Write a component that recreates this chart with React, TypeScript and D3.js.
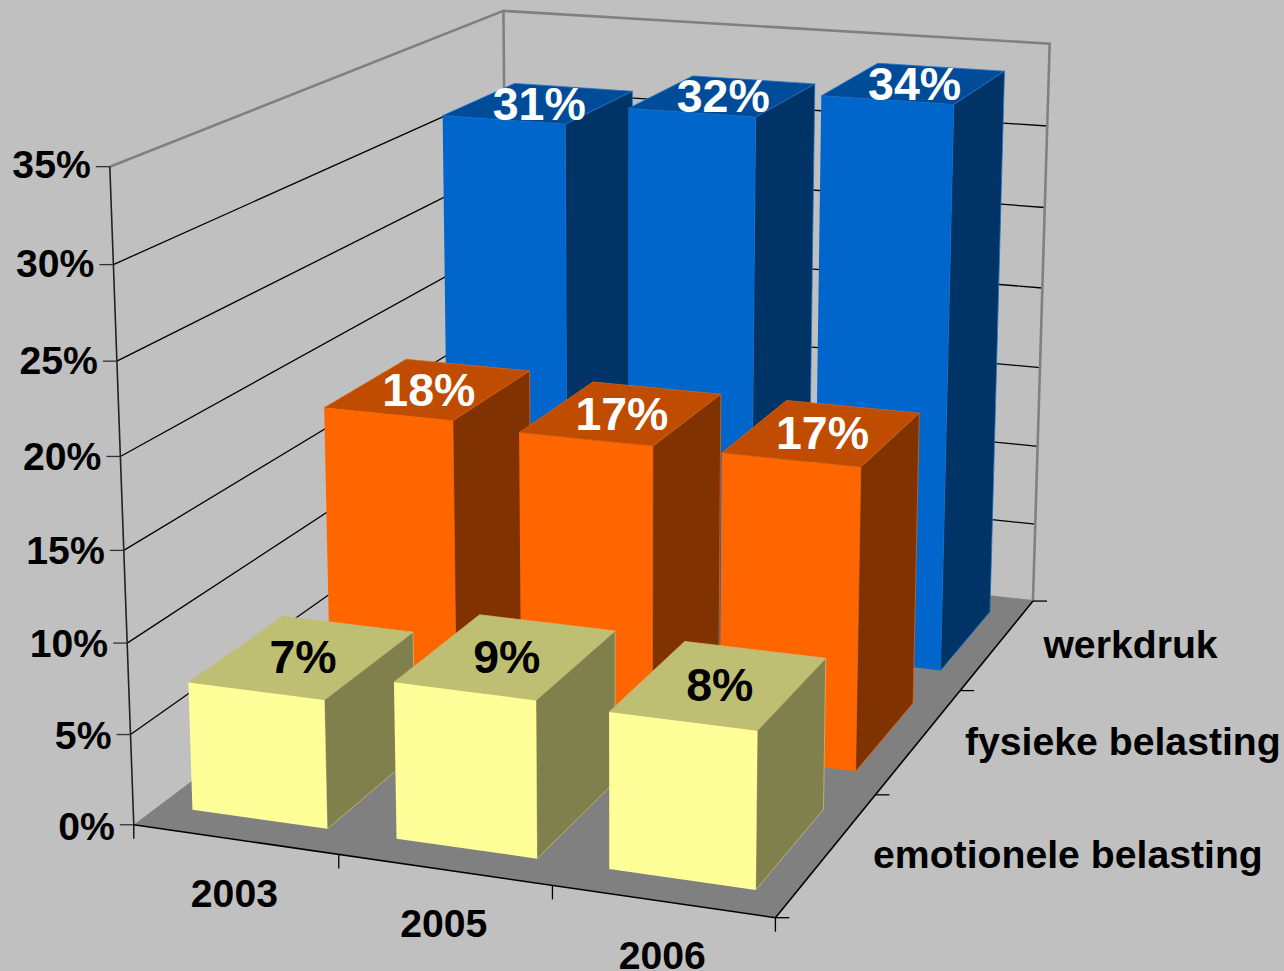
import React from "react";
import * as d3 from "d3";

const years = ["2003", "2005", "2006"];
const seriesNames = ["emotionele belasting", "fysieke belasting", "werkdruk"];
// estimated heights; the labels show them rounded to whole percents
const emotionele = [7.1, 8.55, 8.43];
const fysieke = [17.5, 17.2, 17.2];
const werkdruk = [31, 32.2, 33.7];
const valueTicks = [0, 5, 10, 15, 20, 25, 30, 35];

const W = 1284, H = 971;
const FONT = "'Liberation Sans', Arial, sans-serif";
const fmt = d3.format(".0f");

// camera calibration: unit-cube corners -> screen
const calib: [number, number, number, number, number][] = [
  [0, 0, 0, 134, 827],
  [1, 0, 0, 775, 916],
  [1, 1, 0, 1033, 603],
  [0, 0, 1, 110, 166],
  [0, 1, 1, 503, 12],
  [1, 1, 1, 1050, 43],
  [0, 1, 0, 508, 540],
];

function solveCamera() {
  const rows: number[][] = [];
  const rhs: number[] = [];
  for (const [u, v, w, x, y] of calib) {
    rows.push([u, v, w, 1, 0, 0, 0, 0, -x * u, -x * v, -x * w]); rhs.push(x);
    rows.push([0, 0, 0, 0, u, v, w, 1, -y * u, -y * v, -y * w]); rhs.push(y);
  }
  const n = 11;
  const A = d3.range(n).map((i) => [
    ...d3.range(n).map((j) => d3.sum(rows, (r) => r[i] * r[j])),
    d3.sum(rows, (r, k) => r[i] * rhs[k]),
  ]);
  for (let c = 0; c < n; c++) {
    let p = c;
    for (let r = c + 1; r < n; r++) if (Math.abs(A[r][c]) > Math.abs(A[p][c])) p = r;
    [A[c], A[p]] = [A[p], A[c]];
    for (let r = 0; r < n; r++) {
      if (r === c) continue;
      const f = A[r][c] / A[c][c];
      for (let k = c; k <= n; k++) A[r][k] -= f * A[c][k];
    }
  }
  return A.map((r, i) => r[n] / r[i]);
}
const m = solveCamera();
type P = [number, number];
const project = (u: number, v: number, w: number): P => {
  const d = m[8] * u + m[9] * v + m[10] * w + 1;
  return [
    (m[0] * u + m[1] * v + m[2] * w + m[3]) / d,
    (m[4] * u + m[5] * v + m[6] * w + m[7]) / d,
  ];
};

const xScale = d3.scaleBand<string>().domain(years).range([-0.004, 1.002]).paddingInner(0.335).paddingOuter(0.175);
const depthScale = d3.scaleBand<string>().domain(seriesNames).range([0, 1]).paddingInner(0.34).paddingOuter(0.17);
const valueScale = d3.scaleLinear().domain([0, 35]).range([0, 1]);
const line = d3.line<P>();
const poly = (pts: P[]) => line(pts) + "Z";

const rowsData = [
  { name: seriesNames[2], values: werkdruk, front: "#0066CC", top: "#004C99", side: "#003366", edge: "#1F74C8", label: "#FFFFFF" },
  { name: seriesNames[1], values: fysieke, front: "#FF6600", top: "#BF4C00", side: "#803300", edge: "#D86410", label: "#FFFFFF" },
  { name: seriesNames[0], values: emotionele, front: "#FFFF99", top: "#BFBF73", side: "#80804D", edge: "#CDB878", label: "#000000" },
];

export default function App() {
  const bars = rowsData.flatMap((s) =>
    s.values.map((val, i) => {
      const x0 = xScale(years[i])!, x1 = x0 + xScale.bandwidth();
      const v0 = depthScale(s.name)!, v1 = v0 + depthScale.bandwidth();
      const t = valueScale(val);
      return {
        key: s.name + i, s, val,
        frontPts: [project(x0, v0, 0), project(x1, v0, 0), project(x1, v0, t), project(x0, v0, t)],
        sidePts: [project(x1, v0, 0), project(x1, v1, 0), project(x1, v1, t), project(x1, v0, t)],
        topPts: [project(x0, v0, t), project(x1, v0, t), project(x1, v1, t), project(x0, v1, t)],
        labelAt: project((x0 + x1) / 2, (v0 + v1) / 2, t),
      };
    })
  );
  const thinBlack = { stroke: "#000", strokeWidth: 1.3, fill: "none" };
  const gray = { stroke: "#808080", strokeWidth: 2.6, fill: "none" };
  const seg = (a: P, b: P) => line([a, b])!;
  return (
    <svg width={W} height={H} style={{ position: "absolute", left: 0, top: 0, display: "block" }} fontFamily={FONT} fontWeight="bold">
      <rect width={W} height={H} fill="#C0C0C0" />
      <path d={poly([project(0, 0, 0), project(1, 0, 0), project(1, 1, 0), project(0, 1, 0)])} fill="#808080" />
      {valueTicks.slice(1, -1).map((t) => {
        const w = valueScale(t);
        return (
          <g key={t}>
            <path d={seg(project(0, 0, w), project(0, 1, w))} {...thinBlack} />
            <path d={seg(project(0, 1, w), project(1, 1, w))} {...thinBlack} />
          </g>
        );
      })}
      <path d={line([project(0, 0, 1), project(0, 1, 1), project(1, 1, 1), project(1, 1, 0)])!} {...gray} />
      <path d={seg(project(0, 1, 1), project(0, 1, 0))} {...gray} />
      <path d={seg(project(0, 1, 0), project(1, 1, 0))} stroke="#808080" strokeWidth={2} />
      <path d={seg(project(0, 0, 0), project(0, 0, 1))} stroke="#222" strokeWidth={1.6} fill="none" />
      <path d={seg(project(0, 0, 0), project(1, 0, 0))} stroke="#000" strokeWidth={1.6} fill="none" />
      <path d={seg(project(1, 0, 0), project(1, 1, 0))} stroke="#000" strokeWidth={1.6} fill="none" />
      {valueTicks.map((t) => {
        const [x, y] = project(0, 0, valueScale(t));
        return <path key={t} d={seg([x - 14, y], [x, y])} stroke="#333" strokeWidth={1.3} />;
      })}
      {d3.range(4).map((i) => {
        const [x, y] = project(i / 3, 0, 0);
        return <path key={i} d={seg([x, y], [x, y + 14])} stroke="#000" strokeWidth={1.3} />;
      })}
      {d3.range(4).map((i) => {
        const [x, y] = project(1, i / 3, 0);
        return <path key={i} d={seg([x, y], [x + 14, y])} stroke="#000" strokeWidth={1.3} />;
      })}
      {bars.map((b) => (
        <g key={b.key} stroke={b.s.edge} strokeWidth={0.8} strokeLinejoin="round">
          <path d={poly(b.topPts)} fill={b.s.top} />
          <path d={poly(b.sidePts)} fill={b.s.side} />
          <path d={poly(b.frontPts)} fill={b.s.front} stroke="none" />
        </g>
      ))}
      {bars.map((b) => (
        <text key={b.key} x={b.labelAt[0]} y={b.labelAt[1] + 0.5} textAnchor="middle" dominantBaseline="central" fontSize={46.5} fill={b.s.label}>
          {fmt(b.val)}%
        </text>
      ))}
      {valueTicks.map((t) => {
        const [x, y] = project(0, 0, valueScale(t));
        return (
          <text key={t} x={x - 19} y={y + 2 - 4 * valueScale(t)} textAnchor="end" dominantBaseline="central" fontSize={39.2} fill="#000">
            {t}%
          </text>
        );
      })}
      {years.map((yr) => {
        const [x, y] = project(xScale(yr)! + xScale.bandwidth() / 2, 0, 0);
        return (
          <text key={yr} x={x} y={y + 54} textAnchor="middle" dominantBaseline="central" fontSize={39.2} fill="#000">
            {yr}
          </text>
        );
      })}
      {seriesNames.map((nm) => {
        const [x, y] = project(1, depthScale(nm)! + depthScale.bandwidth() / 2, 0);
        return (
          <text key={nm} x={x + 45.5} y={y + 0.5} dominantBaseline="central" fontSize={39.2} fill="#000">
            {nm}
          </text>
        );
      })}
    </svg>
  );
}
